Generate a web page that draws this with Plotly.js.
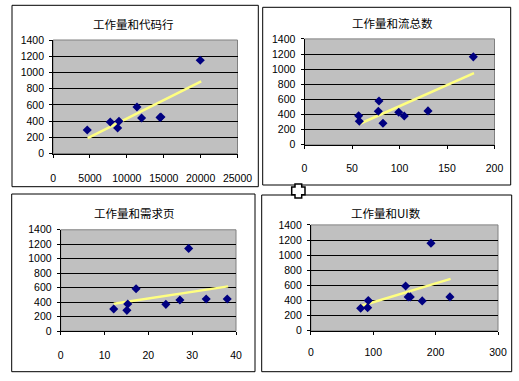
<!DOCTYPE html>
<html>
<head>
<meta charset="utf-8">
<script src="https://cdn.plot.ly/plotly-3.0.1.min.js"></script>
<style>html,body{margin:0;padding:0;background:#fff;}#chart{width:519px;height:381px;}</style>
</head>
<body>
<div id="chart"></div>
<script>
// ---- data ----
var titles = ["工作量和代码行", "工作量和流总数", "工作量和需求页", "工作量和UI数"];

var codeLinesX = [4630, 7750, 8930, 8750, 11370, 12000, 14620, 14500, 19950];
var codeLinesY = [290, 389, 397, 315, 574, 438, 450, 445, 1150];
var codeTrendX = [4690, 20080];
var codeTrendY = [191, 891];

var flowsX = [57.0, 57.7, 78.4, 77.7, 82.6, 99.2, 105, 130, 177.7];
var flowsY = [385, 311, 580, 444, 285, 430, 381, 448, 1163];
var flowsTrendX = [57.7, 178.4];
var flowsTrendY = [275, 947];

var reqPagesX = [12.1, 15.1, 15.3, 17.2, 24.0, 27.2, 29.2, 33.2, 38.0];
var reqPagesY = [306, 288, 375, 586, 371, 430, 1143, 444, 444];
var reqTrendX = [12.1, 38.2];
var reqTrendY = [379, 619];

var uiX = [79.8, 91, 92, 151.9, 156, 159.3, 178.5, 192.5, 222.9];
var uiY = [298, 306, 399, 593, 448, 448, 395, 1159, 448];
var uiTrendX = [79.8, 224];
var uiTrendY = [328, 686];

var xRanges = [[0, 25000], [0, 200], [0, 40], [0, 300]];
var xDticks = [5000, 50, 10, 100];
var yRange = [0, 1400];
var yDtick = 200;

// ---- layout geometry (pixels) ----
var W = 519, H = 381;
var plots = [
  {x0: 53.1, x1: 237.5, y0: 40, y1: 153.5, tx: 133.7, ty: 24, box: [12, 5.3, 258.3, 186.7], stand: 12},
  {x0: 304.5, x1: 494.5, y0: 38.9, y1: 144.8, tx: 392, ty: 22.7, box: [262.7, 7.3, 510.7, 185], stand: 11},
  {x0: 60.7, x1: 236, y0: 229.8, y1: 331.2, tx: 134.3, ty: 212.7, box: [11.7, 194, 255, 371.7], stand: 11},
  {x0: 310.9, x1: 498, y0: 224.9, y1: 330.8, tx: 386, ty: 212.7, box: [261.7, 195, 511.7, 371.7], stand: 9}
];
var series = [
  [codeLinesX, codeLinesY, codeTrendX, codeTrendY],
  [flowsX, flowsY, flowsTrendX, flowsTrendY],
  [reqPagesX, reqPagesY, reqTrendX, reqTrendY],
  [uiX, uiY, uiTrendX, uiTrendY]
];

function px(x) { return x / W; }
function py(y) { return 1 - y / H; }

var traces = [];
var layout = {
  width: W, height: H,
  margin: {l: 0, r: 0, t: 0, b: 0},
  paper_bgcolor: '#ffffff',
  showlegend: false,
  font: {family: 'Liberation Sans, Arial, sans-serif', size: 10.5, color: '#000'},
  shapes: [], annotations: []
};

for (var i = 0; i < 4; i++) {
  var p = plots[i], s = series[i];
  var n = i + 1;
  var xa = 'x' + (n === 1 ? '' : n), ya = 'y' + (n === 1 ? '' : n);
  var xkey = 'xaxis' + (n === 1 ? '' : n), ykey = 'yaxis' + (n === 1 ? '' : n);

  // chart box
  layout.shapes.push({type: 'rect', xref: 'paper', yref: 'paper', layer: 'below',
    x0: px(p.box[0]), x1: px(p.box[2]), y0: py(p.box[3]), y1: py(p.box[1]),
    line: {color: '#000', width: 1}, fillcolor: '#ffffff'});
  // plot area frame
  layout.shapes.push({type: 'rect', xref: 'paper', yref: 'paper', layer: 'below',
    x0: px(p.x0), x1: px(p.x1), y0: py(p.y1), y1: py(p.y0),
    line: {color: '#808080', width: 1}, fillcolor: '#c0c0c0'});

  layout[xkey] = {
    domain: [px(p.x0), px(p.x1)], anchor: ya, range: xRanges[i], dtick: xDticks[i], tick0: 0,
    tickformat: 'd', exponentformat: 'none',
    showgrid: false, zeroline: false, showline: true, linecolor: '#000', linewidth: 1,
    ticks: 'outside', ticklen: 3, tickcolor: '#000', ticklabelstandoff: p.stand, fixedrange: true
  };
  layout[ykey] = {
    domain: [py(p.y1), py(p.y0)], anchor: xa, range: yRange, dtick: yDtick, tick0: 0,
    tickformat: 'd',
    showgrid: true, gridcolor: '#000', gridwidth: 1, zeroline: false,
    showline: true, linecolor: '#000', linewidth: 1,
    ticks: 'outside', ticklen: 3, tickcolor: '#000', ticklabelstandoff: 3, fixedrange: true
  };

  traces.push({x: s[2], y: s[3], xaxis: xa, yaxis: ya, mode: 'lines', type: 'scatter',
    line: {color: '#ffff80', width: 2.5}, hoverinfo: 'skip', cliponaxis: false});
  traces.push({x: s[0], y: s[1], xaxis: xa, yaxis: ya, mode: 'markers', type: 'scatter',
    marker: {symbol: 'diamond', color: '#000080', size: 7, line: {width: 0}}, cliponaxis: false});

  layout.annotations.push({text: titles[i], xref: 'paper', yref: 'paper',
    x: px(p.tx), y: py(p.ty), xanchor: 'center', yanchor: 'middle', showarrow: false,
    font: {family: 'Noto Sans CJK SC, sans-serif', size: 11.5, color: '#000'}});
}

// move cursor icon
var cx = [291.7, 295, 301.7, 305];
var cy = [184, 187, 194.7, 198];
function P(x, y) { return px(x).toFixed(5) + ',' + py(y).toFixed(5); }
var path = 'M' + P(cx[1], cy[0]) + ' L' + P(cx[2], cy[0]) + ' L' + P(cx[2], cy[1]) + ' L' + P(cx[3], cy[1]) +
  ' L' + P(cx[3], cy[2]) + ' L' + P(cx[2], cy[2]) + ' L' + P(cx[2], cy[3]) + ' L' + P(cx[1], cy[3]) +
  ' L' + P(cx[1], cy[2]) + ' L' + P(cx[0], cy[2]) + ' L' + P(cx[0], cy[1]) + ' L' + P(cx[1], cy[1]) + ' Z';
layout.shapes.push({type: 'path', xref: 'paper', yref: 'paper', path: path,
  fillcolor: '#ffffff', line: {color: '#000', width: 1.5}, layer: 'above'});

Plotly.newPlot('chart', traces, layout, {displayModeBar: false, staticPlot: true});
</script>
</body>
</html>
